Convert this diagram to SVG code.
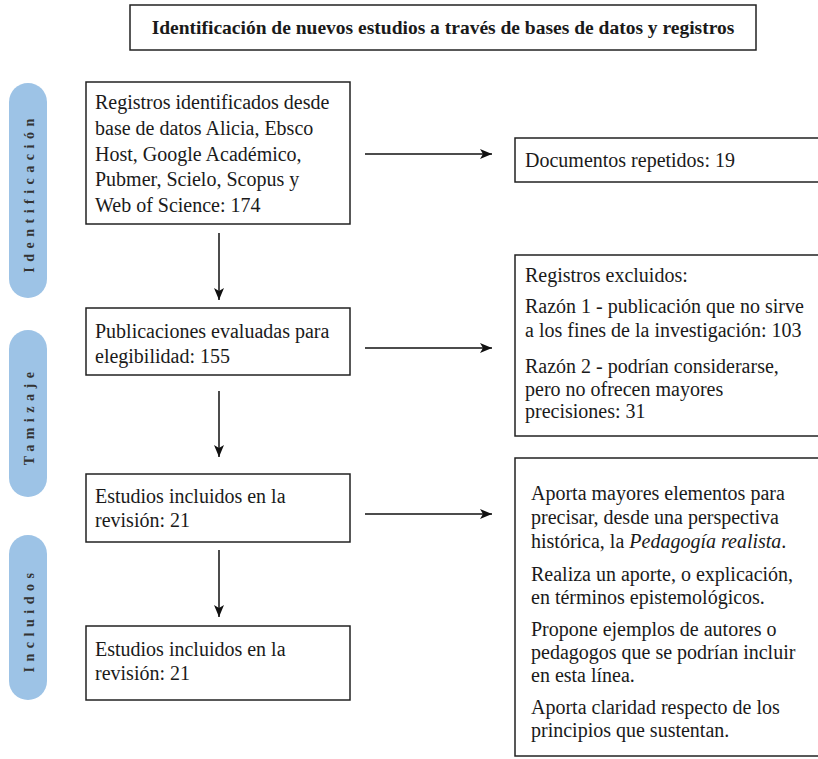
<svg xmlns="http://www.w3.org/2000/svg" width="818" height="759" viewBox="0 0 818 759">
<style>
  .box { fill: #ffffff; stroke: #222222; stroke-width: 1.5; }
  .pill { fill: #9dc3e6; }
  .t { font-family: "Liberation Serif", "DejaVu Serif", serif; font-size: 20px; fill: #1a1a1a; }
  .title { font-family: "Liberation Serif", "DejaVu Serif", serif; font-size: 19.5px; font-weight: bold; fill: #1a1a1a; }
  .side { font-family: "Liberation Serif", "DejaVu Serif", serif; font-size: 14px; font-weight: bold; letter-spacing: 5.5px; fill: #333333; }
  .conn { stroke: #111111; stroke-width: 1.5; fill: none; marker-end: url(#ah); }
</style>
<defs>
  <marker id="ah" viewBox="0 0 12 10" refX="12" refY="5" markerWidth="12" markerHeight="10" markerUnits="userSpaceOnUse" orient="auto">
    <path d="M0,0 L12,5 L0,10 L3,5 Z" fill="#111111"/>
  </marker>
</defs>
<rect width="818" height="759" fill="#ffffff"/>

<g id="title">
  <rect class="box" x="130" y="5" width="626" height="45"/>
  <text class="title" x="443" y="34" text-anchor="middle">Identificación de nuevos estudios a través de bases de datos y registros</text>
</g>

<g id="phase-identificacion">
  <rect class="pill" x="9" y="83" width="38" height="215" rx="19"/>
  <text class="side" transform="translate(33.5,193) rotate(-90)" text-anchor="middle">Identificación</text>
</g>
<g id="phase-tamizaje">
  <rect class="pill" x="9" y="330" width="38" height="167" rx="19"/>
  <text class="side" transform="translate(33.5,416) rotate(-90)" text-anchor="middle">Tamizaje</text>
</g>
<g id="phase-incluidos">
  <rect class="pill" x="9" y="535" width="38" height="165" rx="19"/>
  <text class="side" transform="translate(33.5,620) rotate(-90)" text-anchor="middle">Incluidos</text>
</g>

<g id="n-registros">
  <rect class="box" x="86" y="82" width="264" height="142"/>
  <text class="t" x="95" y="109">Registros identificados desde</text>
  <text class="t" x="95" y="135">base de datos Alicia, Ebsco</text>
  <text class="t" x="95" y="161">Host, Google Académico,</text>
  <text class="t" x="95" y="186">Pubmer, Scielo, Scopus y</text>
  <text class="t" x="95" y="212">Web of Science: 174</text>
</g>

<g id="n-publicaciones">
  <rect class="box" x="86" y="308" width="264" height="67"/>
  <text class="t" x="95" y="338">Publicaciones evaluadas para</text>
  <text class="t" x="95" y="363">elegibilidad: 155</text>
</g>

<g id="n-estudios1">
  <rect class="box" x="86" y="474" width="264" height="68"/>
  <text class="t" x="95" y="503">Estudios incluidos en la</text>
  <text class="t" x="95" y="527">revisión: 21</text>
</g>

<g id="n-estudios2">
  <rect class="box" x="86" y="626" width="264" height="74"/>
  <text class="t" x="95" y="656">Estudios incluidos en la</text>
  <text class="t" x="95" y="680">revisión: 21</text>
</g>

<g id="n-repetidos">
  <rect class="box" x="515" y="138" width="310" height="44"/>
  <text class="t" x="525" y="167">Documentos repetidos: 19</text>
</g>

<g id="n-excluidos">
  <rect class="box" x="515" y="255" width="310" height="181"/>
  <text class="t" x="525" y="282">Registros excluidos:</text>
  <text class="t" x="525" y="313">Razón 1 - publicación que no sirve</text>
  <text class="t" x="525" y="337">a los fines de la investigación: 103</text>
  <text class="t" x="525" y="373">Razón 2 - podrían considerarse,</text>
  <text class="t" x="525" y="396">pero no ofrecen mayores</text>
  <text class="t" x="525" y="418">precisiones: 31</text>
</g>

<g id="n-aportes">
  <rect class="box" x="515" y="458" width="310" height="298"/>
  <text class="t" x="531" y="500">Aporta mayores elementos para</text>
  <text class="t" x="531" y="524">precisar, desde una perspectiva</text>
  <text class="t" x="531" y="548">histórica, la <tspan font-style="italic">Pedagogía realista</tspan>.</text>
  <text class="t" x="531" y="581">Realiza un aporte, o explicación,</text>
  <text class="t" x="531" y="604">en términos epistemológicos.</text>
  <text class="t" x="531" y="636">Propone ejemplos de autores o</text>
  <text class="t" x="531" y="659">pedagogos que se podrían incluir</text>
  <text class="t" x="531" y="682">en esta línea.</text>
  <text class="t" x="531" y="714">Aporta claridad respecto de los</text>
  <text class="t" x="531" y="737">principios que sustentan.</text>
</g>

<g id="connectors">
  <line class="conn" x1="219" y1="233" x2="219" y2="300"/>
  <line class="conn" x1="219" y1="391" x2="219" y2="457"/>
  <line class="conn" x1="219" y1="550" x2="219" y2="617"/>
  <line class="conn" x1="365" y1="154" x2="492" y2="154"/>
  <line class="conn" x1="365" y1="348" x2="492" y2="348"/>
  <line class="conn" x1="365" y1="514" x2="492" y2="514"/>
</g>
</svg>
